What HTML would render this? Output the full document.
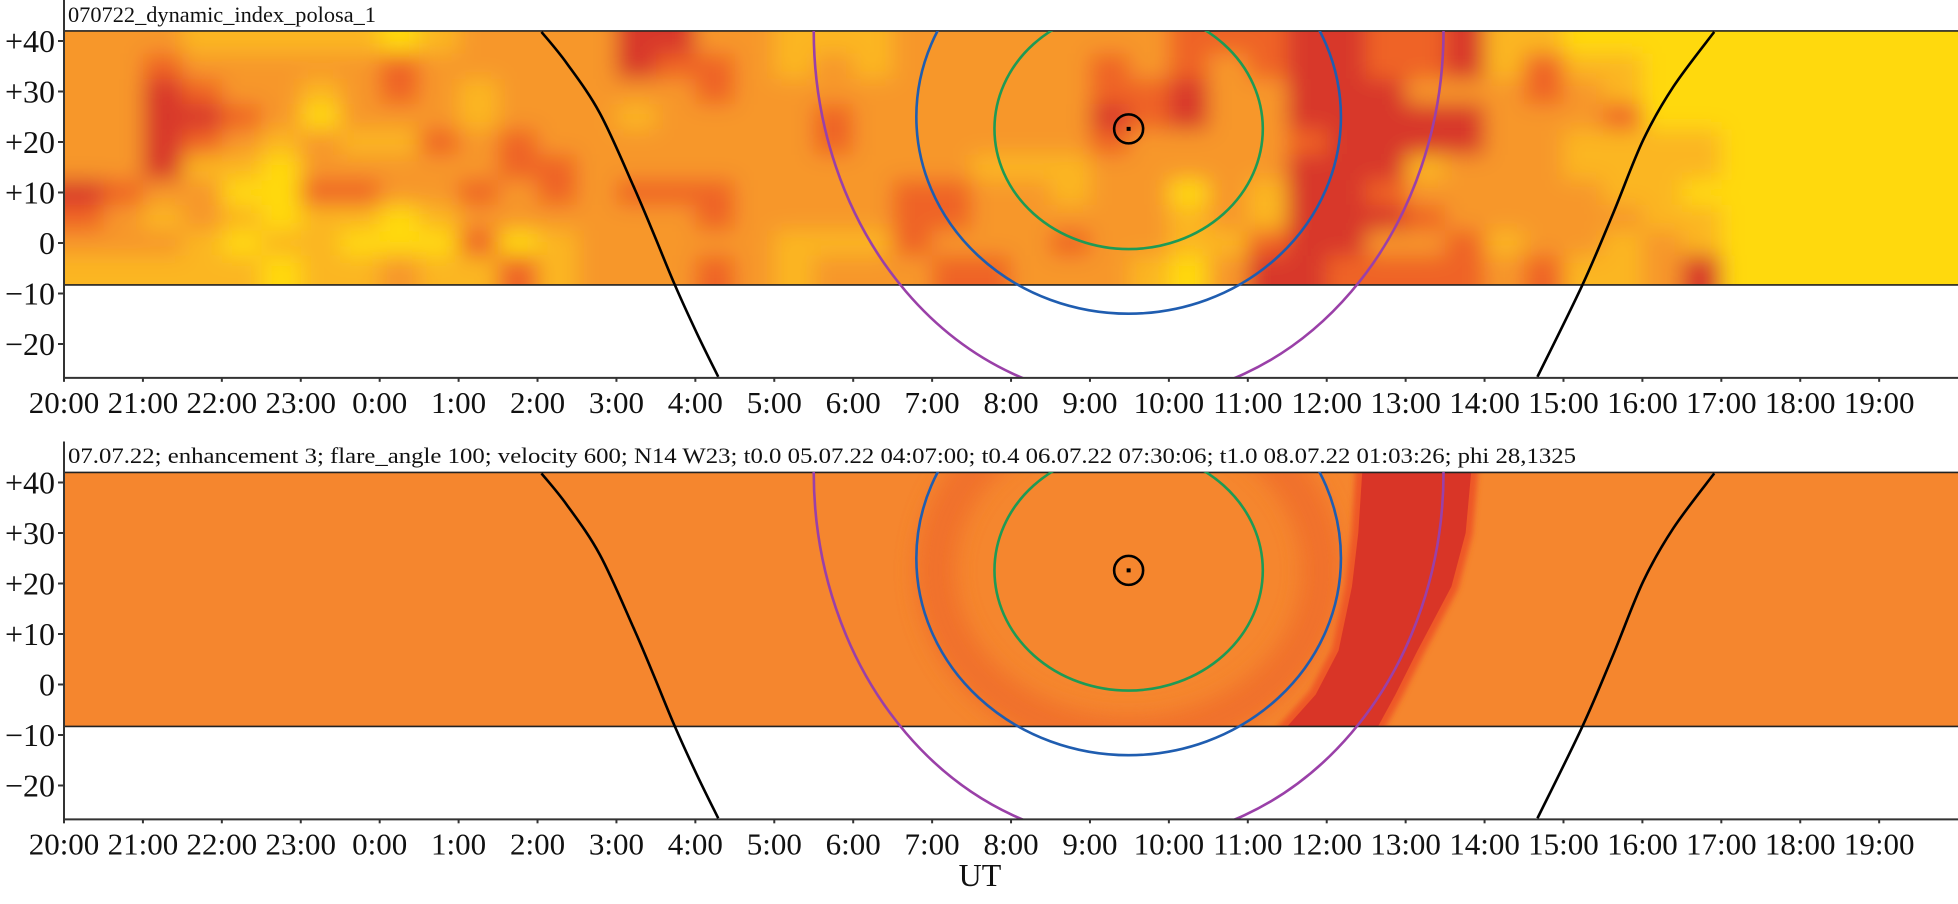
<!DOCTYPE html>
<html><head><meta charset="utf-8">
<style>
html,body{margin:0;padding:0;background:#fff;}
svg{display:block;font-family:"Liberation Serif",serif;}
</style></head>
<body>
<svg id="chart" width="1958" height="904" viewBox="0 0 1958 904" xmlns="http://www.w3.org/2000/svg">
<defs>
<filter id="blurHeat" x="-5%" y="-20%" width="110%" height="140%"><feGaussianBlur stdDeviation="11"/></filter>
<filter id="blurSoft" x="-20%" y="-20%" width="140%" height="140%"><feGaussianBlur stdDeviation="10"/></filter>
<filter id="blurEdge" x="-20%" y="-20%" width="140%" height="140%"><feGaussianBlur stdDeviation="3"/></filter>
<clipPath id="band1"><rect x="64" y="31" width="1894" height="254"/></clipPath>
<clipPath id="band2"><rect x="64" y="472" width="1894" height="254"/></clipPath>
<clipPath id="plot1"><rect x="64" y="31" width="1894" height="347"/></clipPath>
<clipPath id="plot2"><rect x="64" y="472" width="1894" height="347"/></clipPath>
</defs>
<text x="68" y="22" font-size="22" fill="#111" textLength="308" lengthAdjust="spacingAndGlyphs">070722_dynamic_index_polosa_1</text>
<text x="68" y="463" font-size="22" fill="#111" textLength="1508" lengthAdjust="spacingAndGlyphs">07.07.22; enhancement 3; flare_angle 100; velocity 600; N14 W23; t0.0 05.07.22 04:07:00; t0.4 06.07.22 07:30:06; t1.0 08.07.22 01:03:26; phi 28,1325</text>
<g id="p1"></g>
<g id="p2"></g>
<text x="980" y="886" font-size="32" text-anchor="middle" fill="#111">UT</text>
</svg>
<script>
// ---- data ----
const hourLabels = ["20:00","21:00","22:00","23:00","0:00","1:00","2:00","3:00","4:00","5:00","6:00","7:00","8:00","9:00","10:00","11:00","12:00","13:00","14:00","15:00","16:00","17:00","18:00","19:00"];
const latTicks = [40,30,20,10,0,-10,-20];
const latTickLabels = ["+40","+30","+20","+10","0","\u221210","\u221220"];
const bandTopLat = 42;
const bandBottomLat = -8.3;
const axisBottomLat = -26.7;
const heatRowLats = [40,35,30,25,20,15,10,5,0,-5];
const row40 = [2,2,2,1,1,1,1,1,0,1,2,2,2,2,4,4,2,2,1,1,1,2,2,2,2,2,2,2,3,3,3,4,4,3,3,4,1,1,0,0,0,0,0,0,0,0,0,0];
const row35 = [2,2,3,2,2,2,2,2,3,2,2,2,2,2,4,3,3,2,1,2,1,2,2,2,2,2,3,2,3,2,3,4,4,3,3,4,1,3,1,1,0,0,0,0,0,0,0,0];
const row30 = [2,2,4,3,2,2,1,2,3,2,1,2,2,2,2,2,3,2,2,2,2,2,2,2,2,2,3,3,4,2,2,4,4,4,2,2,2,3,2,1,0,0,0,0,0,0,0,0];
const row25 = [2,2,4,4,3,2,0,2,2,2,1,2,2,2,1,2,2,2,2,3,2,2,2,2,2,2,4,3,4,2,2,4,4,4,4,4,2,2,2,3,0,0,0,0,0,0,0,0];
const row20 = [2,2,4,3,2,1,2,1,1,3,2,3,2,2,2,2,2,2,2,3,2,2,2,2,2,2,3,2,2,2,2,3,4,4,4,4,2,2,1,1,1,1,0,0,0,0,0,0];
const row15 = [2,2,4,1,1,0,2,2,2,2,2,3,3,2,2,2,2,2,2,2,2,2,2,1,1,1,2,2,2,2,2,4,4,4,1,2,2,2,1,1,1,1,0,0,0,0,0,0];
const row10 = [4,3,2,2,0,0,3,3,2,2,3,2,3,2,3,3,3,2,2,2,2,3,3,2,2,1,2,2,0,2,1,4,4,3,2,2,2,2,2,1,1,0,0,0,0,0,0,0];
const row5  = [3,2,1,2,1,0,1,1,0,1,2,2,2,2,2,2,3,2,2,2,2,3,3,2,2,2,2,2,1,2,1,4,4,4,3,2,2,2,2,2,1,1,0,0,0,0,0,0];
const row0  = [2,2,2,1,0,1,1,0,0,0,3,0,1,2,2,2,2,2,1,1,1,3,2,2,2,3,2,2,1,1,3,4,4,2,2,3,1,2,2,1,2,1,0,0,0,0,0,0];
const rowM5 = [1,1,1,1,1,0,1,1,2,1,1,3,1,2,2,2,3,2,1,2,2,2,3,3,2,2,2,1,0,2,4,4,3,3,3,3,2,3,1,1,2,4,0,0,0,0,0,0];
const heatRows = [row40,row35,row30,row25,row20,row15,row10,row5,row0,rowM5];
const heatColors = ["#ffd90f","#fbb624","#f7972b","#ef6328","#d8372a"];
const leftCurveH = [6.05,6.37,6.79,7.22,7.47,7.74,8.02,8.29];
const leftCurveLat = [41.8,35.6,25.7,11.1,1.9,-8.3,-17.9,-26.5];
const rightCurveH = [20.91,20.39,20.01,19.63,19.24,18.67];
const rightCurveLat = [41.8,30.9,20.4,5.9,-8.3,-26.5];
const sourceH = 13.49;
const sourceLat = 22.6;
const ringCenterLat = [22.6,25.0,42.0];
const ringA = [1.70,2.69,3.99];
const ringB = [23.8,39.0,73.0];
const ringColors = ["#1e9a55","#1f5db0","#9a40a8"];
const ringNames = ["green-ring","blue-ring","purple-ring"];
const crescentLat = [46,42,30,19.4,6.7,-2,-8.3,-12];
const crescentLeftH = [16.5,16.45,16.40,16.32,16.15,15.86,15.50,15.3];
const crescentRightH = [17.88,17.83,17.76,17.58,17.15,16.87,16.65,16.5];

// ---- helpers ----
const NS = "http://www.w3.org/2000/svg";
const X0 = 64, HW = 78.92, LATPX = 5.05;
function xs(h){ return X0 + h*HW; }
function mk(tag, attrs, parent){
  const e = document.createElementNS(NS, tag);
  for (const k in attrs) e.setAttribute(k, attrs[k]);
  parent.appendChild(e); return e;
}
function smoothPath(p){
  let d = "M" + p[0][0] + "," + p[0][1];
  for (let i=0;i<p.length-1;i++){
    const p0 = p[Math.max(0,i-1)], p1 = p[i], p2 = p[i+1], p3 = p[Math.min(p.length-1,i+2)];
    const c1x = p1[0] + (p2[0]-p0[0])/6, c1y = p1[1] + (p2[1]-p0[1])/6;
    const c2x = p2[0] - (p3[0]-p1[0])/6, c2y = p2[1] - (p3[1]-p1[1])/6;
    d += " C" + c1x + "," + c1y + " " + c2x + "," + c2y + " " + p2[0] + "," + p2[1];
  }
  return d;
}

function drawPanel(g, y0, idx){
  const ys = lat => y0 - lat*LATPX;
  const clipBand = idx===1 ? "url(#band1)" : "url(#band2)";
  const clipPlot = idx===1 ? "url(#plot1)" : "url(#plot2)";
  const yTop = ys(bandTopLat), yBot = ys(bandBottomLat), yAxis = ys(axisBottomLat);

  const hb = mk("g", {"clip-path": clipBand}, g);
  
  
  if (idx===1){
    const inner = mk("g", {filter:"url(#blurHeat)"}, hb);
    const nCols = heatRows[0].length;
    heatRows.forEach((row, r) => {
      row.forEach((v, c) => {
        let x = xs(c*0.5), w = HW*0.5 + 1;
        let yA = ys(heatRowLats[r] + 2.5), yB = ys(heatRowLats[r] - 2.5);
        if (r===0) yA -= 30;
        if (r===heatRows.length-1) yB += 30;
        if (c===0){ x -= 30; w += 30; }
        if (c===nCols-1){ w += 30; }
        const rc = mk("rect", {x:x, y:yA, width:w, height:yB-yA+1, fill:heatColors[v]}, inner);
        
        
      });
    });
  } else {
    const base = mk("rect", {x:64, y:yTop, width:1894, height:yBot-yTop, fill:"#f5862e"}, hb);
    
    
    const halo = mk("ellipse", {cx:xs(sourceH), cy:ys(sourceLat), rx:2.45*HW, ry:33*LATPX, fill:"none", stroke:"#ef6a2c", "stroke-width":40, opacity:0.75, filter:"url(#blurSoft)"}, hb);
    
    
    let pts = [];
    crescentLat.forEach((l,i)=>pts.push(xs(crescentLeftH[i])+","+ys(l)));
    for (let i=crescentLat.length-1;i>=0;i--) pts.push(xs(crescentRightH[i])+","+ys(crescentLat[i]));
    const edge = mk("polygon", {points:pts.join(" "), fill:"#ee5628", stroke:"#ee5628", "stroke-width":14, filter:"url(#blurEdge)"}, hb);
    
    
    const cres = mk("polygon", {points:pts.join(" "), fill:"#d93527"}, hb);
    
    
  }
  const bt = mk("line", {x1:64, x2:1958, y1:yTop, y2:yTop, stroke:"#222", "stroke-width":1.6}, g);
  
  
  const bb = mk("line", {x1:64, x2:1958, y1:yBot, y2:yBot, stroke:"#222", "stroke-width":1.6}, g);
  
  

  const ov = mk("g", {"clip-path": clipPlot}, g);
  ringA.forEach((a,i)=>{
    const e = mk("ellipse", {cx:xs(sourceH), cy:ys(ringCenterLat[i]), rx:a*HW, ry:ringB[i]*LATPX, fill:"none", stroke:ringColors[i], "stroke-width":2.6}, ov);
    
    
  });
  const sc = mk("circle", {cx:xs(sourceH), cy:ys(sourceLat), r:14.5, fill:"none", stroke:"#000", "stroke-width":2.6}, ov);
  
  
  const sd = mk("rect", {x:xs(sourceH)-2, y:ys(sourceLat)-2, width:4, height:4, fill:"#000"}, ov);
  
  
  const lpts = leftCurveH.map((h,i)=>[xs(h), ys(leftCurveLat[i])]);
  const lc = mk("path", {d:smoothPath(lpts), fill:"none", stroke:"#000", "stroke-width":2.6}, ov);
  
  
  const rpts = rightCurveH.map((h,i)=>[xs(h), ys(rightCurveLat[i])]);
  const rcv = mk("path", {d:smoothPath(rpts), fill:"none", stroke:"#000", "stroke-width":2.6}, ov);
  
  

  const ya = mk("line", {x1:64, x2:64, y1:y0-243, y2:yAxis, stroke:"#333", "stroke-width":2}, g);
  
  
  const xa = mk("line", {x1:63, x2:1958, y1:yAxis, y2:yAxis, stroke:"#333", "stroke-width":2}, g);
  
  
  latTicks.forEach((l,i)=>{
    const t = mk("line", {x1:58, x2:64, y1:ys(l), y2:ys(l), stroke:"#333", "stroke-width":2}, g);
    
    
    const tx = mk("text", {x:55, y:ys(l)+11, "font-size":32, "text-anchor":"end", fill:"#111"}, g);
    tx.textContent = latTickLabels[i];
    
    
  });
  hourLabels.forEach((lab,i)=>{
    const t = mk("line", {x1:xs(i), x2:xs(i), y1:yAxis, y2:yAxis+4, stroke:"#333", "stroke-width":2}, g);
    
    
    const tx = mk("text", {x:xs(i), y:yAxis+35, "font-size":31, "text-anchor":"middle", fill:"#111"}, g);
    tx.textContent = lab;
    
    
  });
}
drawPanel(document.getElementById("p1"), 243, 1);
drawPanel(document.getElementById("p2"), 684.5, 2);
</script>
</body></html>
